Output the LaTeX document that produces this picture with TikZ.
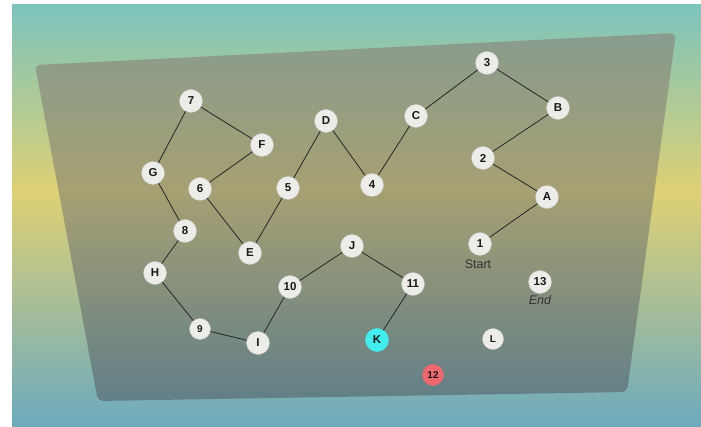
\documentclass[tikz,border=0pt]{standalone}
\usepackage{fontspec}
\setmainfont{Liberation Sans}
\usetikzlibrary{calc}

\definecolor{skytop}{RGB}{124,196,188}
\definecolor{skymid}{RGB}{222,208,116}
\definecolor{skylow}{RGB}{108,170,190}
\definecolor{boardtop}{RGB}{136,156,142}
\definecolor{boardmid}{RGB}{166,160,114}
\definecolor{boardlow}{RGB}{96,126,136}
\definecolor{dotfill}{RGB}{236,236,232}
\definecolor{dottext}{RGB}{25,25,25}
\definecolor{current}{RGB}{64,238,240}
\definecolor{wrong}{RGB}{238,104,112}

\begin{document}
\begin{tikzpicture}[x=1pt,y=-1pt,
    dot/.style={circle,fill=dotfill,draw=dotfill!70!gray,line width=0.4pt,minimum size=23pt,inner sep=0pt,text=dottext,font=\fontsize{11.5}{13}\selectfont\bfseries},
    smalldot/.style={dot,minimum size=21pt,font=\fontsize{10}{12}\selectfont\bfseries},
    caption/.style={text=black!80,font=\fontsize{12.5}{14}\selectfont},
    trail/.style={draw=black!85,line width=0.8pt}]

    \useasboundingbox (0,0) rectangle (701,427);

    % background sky
    \fill[white] (0,0) rectangle (701,427);
    \shade[top color=skytop,bottom color=skymid] (12,5) rectangle (701,192);
    \shade[top color=skymid,bottom color=skylow] (12,192) rectangle (701,427);

    % the tilted board
    \begin{scope}
        \clip[rounded corners=5pt] (35,65) -- (676,33) -- (627,392) -- (98,401) -- cycle;
        \shade[top color=boardtop,bottom color=boardmid] (30,30) rectangle (680,190);
        \shade[top color=boardmid,bottom color=boardlow] (30,190) rectangle (680,405);
    \end{scope}

    % numbered and lettered dots
    \node[dot] (n7) at (191,101) {7};
    \node[dot] (nF) at (262,145) {F};
    \node[dot] (nG) at (153,173) {G};
    \node[dot] (n6) at (200,189) {6};
    \node[dot] (n5) at (288,188) {5};
    \node[dot] (nD) at (326,121) {D};
    \node[dot] (n4) at (372,185) {4};
    \node[dot] (nC) at (416,116) {C};
    \node[dot] (n3) at (487,63) {3};
    \node[dot] (nB) at (558,108) {B};
    \node[dot] (n2) at (483,158) {2};
    \node[dot] (nA) at (547,197) {A};
    \node[dot] (n1) at (480,244) {1};
    \node[dot] (n13) at (540,282) {13};
    \node[dot] (n8) at (185,231) {8};
    \node[dot] (nE) at (250,253) {E};
    \node[dot] (nJ) at (352,246) {J};
    \node[dot] (nH) at (155,273) {H};
    \node[dot] (n10) at (290,287) {10};
    \node[dot] (n11) at (413,284) {11};
    \node[smalldot] (n9) at (200,329) {9};
    \node[dot] (nI) at (258,343) {I};
    \node[dot,fill=current,draw=current] (nK) at (377,340) {K};
    \node[smalldot] (nL) at (493,339) {L};
    \node[smalldot,fill=wrong,draw=wrong] (n12) at (433,375) {12};

    % start and end captions
    \node[caption] (start) at (478,264) {Start};
    \node[caption,font=\fontsize{12.5}{14}\selectfont\itshape] (end) at (540,300) {End};

    % the trail drawn so far
    \draw[trail] (n1) -- (nA) -- (n2) -- (nB) -- (n3) -- (nC) -- (n4) -- (nD) -- (n5) -- (nE) -- (n6) -- (nF) -- (n7) -- (nG) -- (n8) -- (nH) -- (n9) -- (nI) -- (n10) -- (nJ) -- (n11) -- (nK);

\end{tikzpicture}
\end{document}
